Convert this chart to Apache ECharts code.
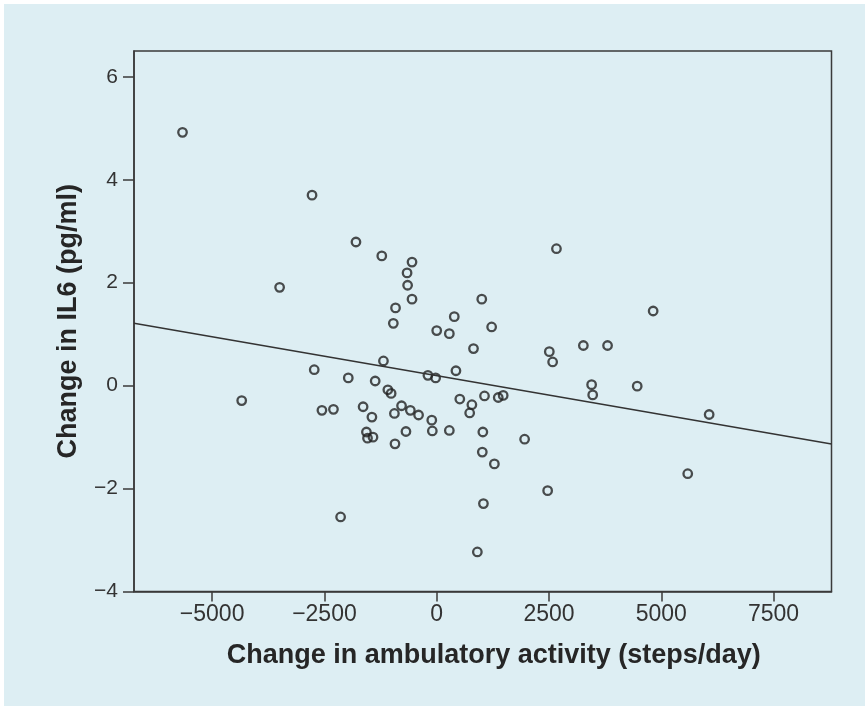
<!DOCTYPE html>
<html>
<head>
<meta charset="utf-8">
<script src="https://cdn.jsdelivr.net/npm/echarts@6/dist/echarts.min.js"></script>
<style>
  html, body { margin: 0; padding: 0; background: #ffffff; }
  #chart {
    position: absolute;
    left: 4px;
    top: 4px;
    width: 861px;
    height: 702px;
    background: #ddeef3;
  }
</style>
</head>
<body>
<div id="chart"></div>
<script>
// change in steps/day for each subject
const stepsChange = [
  -5660, -2776, -1798, -3498, -1223, -550, -660, -648, -550, -917,
  -966, 2666, 1003, 391, 1223, 0, 281, 819, 4819, 3265,
  3804, 2507, 2581, -1186, -2727, -1969, -1370, 428, -196, -24,
  3449, 4464, 3473, 6066, -4342, -1088, -1015, -2556, -2299, -1639,
  -783, -1443, -942, -587, -404, -110, 514, 783, 734, 1064,
  1370, 1480, -685, -98, 281, -1565, -1541, -1419, -929, 1027,
  1957, 1015, 1284, 5589, 2470, 1040, -2140, 905
];
// change in IL6 (pg/ml), same order
const il6Change = [
  4.92, 3.70, 2.79, 1.91, 2.52, 2.40, 2.19, 1.95, 1.68, 1.51,
  1.21, 2.66, 1.68, 1.34, 1.14, 1.07, 1.01, 0.72, 1.45, 0.78,
  0.78, 0.66, 0.46, 0.48, 0.31, 0.15, 0.09, 0.29, 0.20, 0.15,
  0.02, -0.01, -0.18, -0.56, -0.29, -0.08, -0.15, -0.48, -0.46, -0.41,
  -0.39, -0.61, -0.54, -0.48, -0.57, -0.67, -0.26, -0.37, -0.53, -0.20,
  -0.23, -0.19, -0.89, -0.88, -0.87, -0.90, -1.02, -1.00, -1.13, -0.90,
  -1.04, -1.29, -1.52, -1.71, -2.04, -2.29, -2.55, -3.23
];

// fitted line, ends read at the plot edges
const fitX = [-6740, 8790];
const fitY = [1.21, -1.135];

const xTicks = [-5000, -2500, 0, 2500, 5000, 7500];
const yTicks = [-4, -2, 0, 2, 4, 6];

const chart = echarts.init(document.getElementById('chart'));

function minusSign(v) {
  return String(v).replace('-', '\u2212');
}

const labelFont = {
  color: '#333333',
  fontFamily: 'Liberation Sans, Arial, sans-serif'
};

const titleFont = {
  color: '#262626',
  fontSize: 27,
  fontWeight: 'bold',
  fontFamily: 'Liberation Sans, Arial, sans-serif'
};

chart.setOption({
  animation: false,
  grid: {
    show: true,
    left: 130,
    top: 47,
    right: 33.5,
    bottom: 114.4,
    backgroundColor: 'transparent',
    borderColor: '#3a3a3a',
    borderWidth: 1.5,
    containLabel: false
  },
  xAxis: {
    type: 'value',
    min: fitX[0],
    max: fitX[1],
    name: 'Change in ambulatory activity (steps/day)',
    nameLocation: 'middle',
    nameGap: 50,
    nameTextStyle: { ...titleFont, padding: [0, 0, 0, 22] },
    splitLine: { show: false },
    axisLine: { show: true, onZero: false, lineStyle: { color: '#3a3a3a', width: 1.5 } },
    axisTick: {
      show: true,
      length: 10,
      customValues: xTicks,
      lineStyle: { color: '#3a3a3a', width: 1.5 }
    },
    axisLabel: {
      customValues: xTicks,
      margin: 12,
      fontSize: 23,
      ...labelFont,
      formatter: minusSign
    }
  },
  yAxis: {
    type: 'value',
    min: -4,
    max: 6.5,
    name: 'Change in IL6 (pg/ml)',
    nameLocation: 'middle',
    nameGap: 52,
    nameTextStyle: titleFont,
    splitLine: { show: false },
    axisLine: { show: true, onZero: false, lineStyle: { color: '#3a3a3a', width: 1.5 } },
    axisTick: {
      show: true,
      length: 11,
      customValues: yTicks,
      lineStyle: { color: '#3a3a3a', width: 1.5 }
    },
    axisLabel: {
      customValues: yTicks,
      margin: 16,
      fontSize: 21,
      ...labelFont,
      formatter: minusSign
    }
  },
  series: [
    {
      type: 'scatter',
      data: stepsChange.map((x, i) => [x, il6Change[i]]),
      symbol: 'circle',
      symbolSize: 8.5,
      itemStyle: {
        color: 'transparent',
        borderColor: '#222222',
        borderWidth: 2.3
      }
    },
    {
      type: 'line',
      data: fitX.map((x, i) => [x, fitY[i]]),
      symbol: 'none',
      silent: true,
      lineStyle: { color: '#333333', width: 1.5 }
    }
  ]
});
</script>
</body>
</html>
